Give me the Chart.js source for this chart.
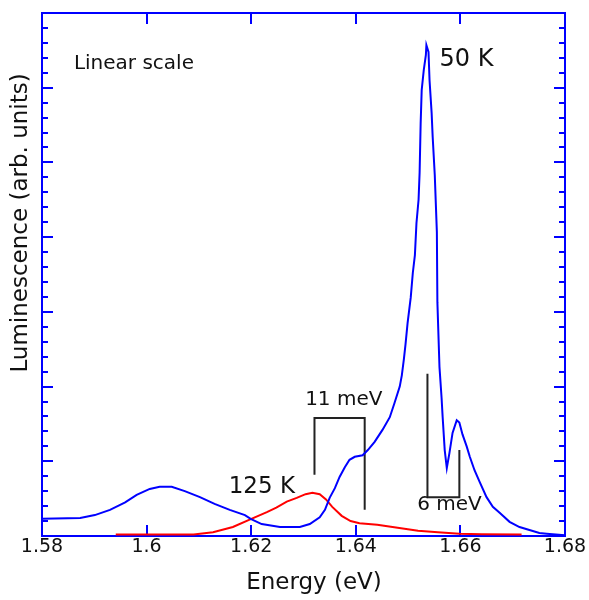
<!DOCTYPE html>
<html><head><meta charset="utf-8">
<script src="https://cdn.jsdelivr.net/npm/chart.js@4/dist/chart.umd.min.js"></script>
<style>html,body{margin:0;padding:0;background:#fff;overflow:hidden}</style>
</head><body>
<canvas id="c" width="589" height="600"></canvas>
<script>
// 50 K spectrum (blue)
const energy50K = [1.580,1.5873,1.5901,1.5930,1.5959,1.5981,1.6006,1.6025,1.6048,1.6073,
1.6102,1.6130,1.6159,1.6188,1.6199,1.6220,1.6255,1.6293,1.6312,1.6331,
1.6341,1.6350,1.6360,1.6369,1.6379,1.6388,1.6398,1.6413,1.6423,1.6436,
1.6451,1.6465,1.6474,1.6484,1.6488,1.6492,1.6495,1.6499,1.6505,1.6509,
1.6513,1.6516,1.6520,1.6522,1.6524,1.6526,1.6530,1.6534,1.6535,1.6539,
1.6541,1.6545,1.6547,1.6551,1.6555,1.6556,1.6560,1.6564,1.6566,1.6570,
1.6574,1.6579,1.6585,1.6593,1.6598,1.6604,1.6612,1.6618,1.6627,1.6637,
1.6650,1.6662,1.6675,1.6694,1.6713,1.6732,1.6751,1.6765,1.680];
const lum50K = [0.23,0.24,0.28,0.35,0.45,0.55,0.63,0.66,0.66,0.60,
0.52,0.43,0.35,0.28,0.23,0.16,0.12,0.12,0.16,0.25,
0.35,0.51,0.64,0.79,0.92,1.02,1.06,1.08,1.15,1.26,
1.42,1.59,1.78,2.00,2.15,2.37,2.56,2.85,3.19,3.52,
3.76,4.19,4.50,4.86,5.52,5.97,6.24,6.44,6.57,6.48,
6.10,5.66,5.34,4.83,4.07,3.13,2.26,1.85,1.60,1.15,
0.91,1.11,1.38,1.55,1.52,1.36,1.20,1.06,0.88,0.72,
0.52,0.39,0.31,0.19,0.12,0.08,0.04,0.03,0.01];
// 125 K spectrum (red)
const energy125K = [1.5941,1.6090,1.6127,1.6165,1.6197,1.6230,1.6248,1.6268,1.6287,1.6304,
1.6317,1.6331,1.6343,1.6355,1.6373,1.6390,1.6407,1.6441,1.6480,1.6519,1.6557,1.6598,1.6641,1.6717];
const lum125K = [0.02,0.02,0.05,0.12,0.22,0.32,0.38,0.46,0.51,0.56,
0.58,0.56,0.49,0.39,0.27,0.20,0.17,0.15,0.11,0.07,0.05,0.03,0.025,0.02];
// bracket markers
const bracket11E = [1.6321,1.6321,1.6417,1.6417];
const bracket11Y = [0.82,1.58,1.58,0.35];
const bracket6E = [1.6537,1.6537,1.6598,1.6598];
const bracket6Y = [2.17,0.52,0.52,1.15];
// ticks
const xTickValues = [1.58,1.60,1.62,1.64,1.66,1.68];
const xTickLabels = ['1.58','1.6','1.62','1.64','1.66','1.68'];
// text annotations (data coordinates)
const noteTexts = ['Linear scale','50 K','125 K','11 meV','6 meV'];
const noteE = [1.5861,1.6560,1.6157,1.6377,1.6579];
const noteY = [6.32,6.37,0.656,1.82,0.415];
const noteAlign = ['left','left','left','center','center'];
const noteSize = [20,24,23,20,20];
const xTitle = 'Energy (eV)';
const yTitle = 'Luminescence (arb. units)';

const zip = (xs, ys) => xs.map((x, i) => ({x, y: ys[i]}));
const FONT = "'DejaVu Sans', sans-serif";
const BLUE = '#0000ff';

const framePlugin = {
  id: 'frame',
  beforeDatasetsDraw(chart) {
    const {ctx, chartArea: a, scales: {x, y}} = chart;
    ctx.save();
    ctx.strokeStyle = BLUE;
    ctx.lineWidth = 2;
    ctx.strokeRect(a.left, a.top, a.right - a.left, a.bottom - a.top);
    ctx.beginPath();
    x.ticks.forEach(t => {
      if (t.value <= x.min + 1e-9 || t.value >= x.max - 1e-9) return;
      const px = Math.round(x.getPixelForValue(t.value));
      ctx.moveTo(px, a.bottom); ctx.lineTo(px, a.bottom - 11);
      ctx.moveTo(px, a.top); ctx.lineTo(px, a.top + 11);
    });
    y.ticks.forEach(t => {
      if (t.value <= y.min + 1e-9 || t.value >= y.max - 1e-9) return;
      const py = Math.round(y.getPixelForValue(t.value));
      const major = Math.abs(t.value - Math.round(t.value)) < 1e-6;
      const len = major ? 11 : 6;
      ctx.moveTo(a.left, py); ctx.lineTo(a.left + len, py);
      ctx.moveTo(a.right, py); ctx.lineTo(a.right - len, py);
    });
    ctx.stroke();
    ctx.restore();
  },
  afterDraw(chart) {
    const {ctx, chartArea: a, scales: {x, y}} = chart;
    ctx.save();
    ctx.fillStyle = '#111';
    ctx.textBaseline = 'middle';
    noteTexts.forEach((t, i) => {
      ctx.font = noteSize[i] + 'px ' + FONT;
      ctx.textAlign = noteAlign[i];
      ctx.fillText(t, x.getPixelForValue(noteE[i]), y.getPixelForValue(noteY[i]));
    });
    ctx.font = '23px ' + FONT;
    ctx.textAlign = 'center';
    ctx.fillText(xTitle, x.getPixelForValue(1.632), a.bottom + 47);
    ctx.translate(a.left - 21, y.getPixelForValue(4.19));
    ctx.rotate(-Math.PI / 2);
    ctx.fillText(yTitle, 0, 0);
    ctx.restore();
  }
};

new Chart(document.getElementById('c'), {
  type: 'line',
  data: {
    datasets: [
      {label: '50 K', data: zip(energy50K, lum50K), borderColor: BLUE, borderWidth: 2, pointRadius: 0, tension: 0, fill: false},
      {label: '125 K', data: zip(energy125K, lum125K), borderColor: '#ff0000', borderWidth: 2, pointRadius: 0, tension: 0, fill: false},
      {label: '11 meV', data: zip(bracket11E, bracket11Y), borderColor: '#222', borderWidth: 2, pointRadius: 0, tension: 0, fill: false},
      {label: '6 meV', data: zip(bracket6E, bracket6Y), borderColor: '#222', borderWidth: 2, pointRadius: 0, tension: 0, fill: false}
    ]
  },
  options: {
    responsive: false,
    animation: false,
    devicePixelRatio: 1,
    layout: {padding: {left: 42, right: 24, top: 13, bottom: 0}},
    plugins: {legend: {display: false}, tooltip: {enabled: false}},
    scales: {
      x: {
        type: 'linear', min: 1.58, max: 1.68,
        afterBuildTicks: s => { s.ticks = xTickValues.map(v => ({value: v})); },
        ticks: {
          autoSkip: false, maxRotation: 0, padding: 0, color: '#111',
          font: {family: FONT, size: 19},
          callback: v => xTickLabels[xTickValues.findIndex(t => Math.abs(t - v) < 1e-9)]
        },
        grid: {display: false, drawTicks: false},
        border: {display: false},
        afterFit: s => { s.height = 64; }
      },
      y: {
        type: 'linear', min: 0, max: 7,
        ticks: {display: false, stepSize: 0.2},
        grid: {display: false, drawTicks: false},
        border: {display: false},
        afterFit: s => { s.width = 0; }
      }
    }
  },
  plugins: [framePlugin]
});
</script>
</body></html>
